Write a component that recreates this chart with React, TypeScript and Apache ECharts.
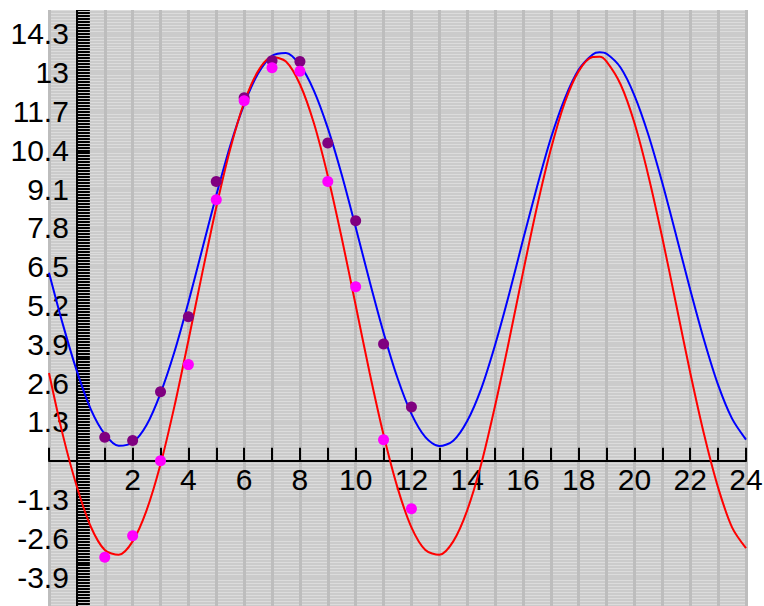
import React, { useEffect, useRef } from "react";
import * as echarts from "echarts";

// Curve samples at x = -1 .. 24 (every 0.5, plus the second crest)
const curveX = [
  -1, -0.5, 0, 0.5, 1, 1.5, 2, 2.5, 3, 3.5, 4, 4.5, 5, 5.5, 6, 6.5, 7, 7.5, 8, 8.5, 9, 9.5, 10, 10.5, 11, 11.5, 12,
  12.5, 13, 13.5, 14, 14.5, 15, 15.5, 16, 16.5, 17, 17.5, 18, 18.5, 18.75, 19, 19.5, 20, 20.5, 21, 21.5, 22, 22.5, 23,
  23.5, 24,
];
const blueCurve = [
  6.3, 4.56, 3.0, 1.72, 0.89, 0.5, 0.61, 1.2, 2.26, 3.65, 5.31, 7.1, 8.89, 10.55, 11.94, 12.97, 13.56, 13.66, 13.26,
  12.4, 11.14, 9.58, 7.82, 6.01, 4.29, 2.77, 1.57, 0.79, 0.49, 0.67, 1.33, 2.41, 3.88, 5.57, 7.39, 9.16, 10.8, 12.13,
  13.1, 13.61, 13.68, 13.63, 13.17, 12.23, 10.91, 9.3, 7.53, 5.73, 4.03, 2.54, 1.41, 0.71,
];
const redCurve = [
  2.94, 0.85, -0.87, -2.21, -2.99, -3.15, -2.7, -1.66, -0.12, 1.83, 4.03, 6.3, 8.49, 10.44, 12.0, 13.05, 13.52, 13.37,
  12.61, 11.31, 9.54, 7.46, 5.21, 2.95, 0.87, -0.9, -2.23, -2.99, -3.15, -2.7, -1.66, -0.12, 1.84, 4.02, 6.3, 8.49,
  10.43, 12.0, 13.05, 13.52, 13.53, 13.37, 12.61, 11.31, 9.54, 7.46, 5.21, 2.95, 0.87, -0.9, -2.23, -2.93,
];

// Observed points, x = 1 .. 12
const dotX = [1, 2, 3, 4, 5, 6, 7, 8, 9, 10, 11, 12];
const purpleDots = [0.79, 0.68, 2.31, 4.82, 9.35, 12.16, 13.4, 13.37, 10.64, 8.04, 3.91, 1.8];
const magentaDots = [-3.23, -2.51, 0.0, 3.22, 8.74, 12.06, 13.16, 13.05, 9.35, 5.83, 0.7, -1.61];

const xTickLabels = [2, 4, 6, 8, 10, 12, 14, 16, 18, 20, 22, 24];
const yTickLabels = [-3.9, -2.6, -1.3, 1.3, 2.6, 3.9, 5.2, 6.5, 7.8, 9.1, 10.4, 11.7, 13, 14.3];

const FONT = "'Liberation Sans', Arial, sans-serif";

const W = 764;
const H = 606;
const GRID_LEFT = 49;
const GRID_RIGHT = 18;
const GRID_TOP = -5;
const GRID_BOTTOM = -10;
const X_MIN = -1;
const X_MAX = 24;
const Y_MIN = -5.2;
const Y_MAX = 15.6;

export default function App() {
  const ref = useRef<HTMLDivElement>(null);
  useEffect(() => {
    document.body.style.margin = "0";
    const chart = echarts.init(ref.current!, null, { renderer: "svg" });
    const plotW = W - GRID_LEFT - GRID_RIGHT;
    const plotH = H - GRID_TOP - GRID_BOTTOM;
    // place axes on the zero lines
    const yAxisOffset = -((0 - X_MIN) / (X_MAX - X_MIN)) * plotW;
    const xAxisOffset = -((0 - Y_MIN) / (Y_MAX - Y_MIN)) * plotH;
    chart.setOption({
      animation: false,
      grid: {
        left: GRID_LEFT,
        right: GRID_RIGHT,
        top: GRID_TOP,
        bottom: GRID_BOTTOM,
        show: true,
        backgroundColor: "#cbcbcb",
        borderWidth: 0,
        containLabel: false,
        outerBoundsMode: "none",
      },
      xAxis: {
        type: "value",
        min: X_MIN,
        max: X_MAX,
        interval: 1,
        position: "bottom",
        offset: xAxisOffset,
        axisLine: { onZero: false, lineStyle: { color: "#000", width: 2 } },
        axisTick: { inside: true, length: 13, lineStyle: { color: "#000", width: 2 } },
        axisLabel: {
          customValues: xTickLabels,
          fontSize: 30,
          color: "#000",
          fontFamily: FONT,
          margin: 4,
        },
        splitLine: { show: true, lineStyle: { color: "#bdbdbd", width: 3 } },
      },
      yAxis: {
        type: "value",
        min: Y_MIN,
        max: Y_MAX,
        interval: 1.3,
        position: "left",
        offset: yAxisOffset,
        axisLine: { onZero: false, lineStyle: { color: "#000", width: 2 } },
        axisTick: { inside: true, length: 13, lineStyle: { color: "#000", width: 2 } },
        minorTick: { show: true, splitNumber: 13, length: 13, lineStyle: { color: "#000", width: 2 } },
        axisLabel: {
          customValues: yTickLabels,
          fontSize: 30,
          color: "#000",
          fontFamily: FONT,
          margin: 8,
        },
        splitLine: { show: false },
        minorSplitLine: { show: true, lineStyle: { color: "#dcdcdc", width: 1 } },
      },
      graphic: [
        {
          type: "rect",
          z: 100,
          shape: { x: 0, y: 0, width: W, height: 10 },
          style: { fill: "#ffffff" },
        },
      ],
      series: [
        {
          type: "line",
          data: curveX.map((x, i) => [x, blueCurve[i]]),
          smooth: 0.3,
          showSymbol: false,
          lineStyle: { color: "#0000ff", width: 2 },
          z: 3,
        },
        {
          type: "line",
          data: curveX.map((x, i) => [x, redCurve[i]]),
          smooth: 0.3,
          showSymbol: false,
          lineStyle: { color: "#ff0000", width: 2 },
          z: 3,
        },
        {
          type: "scatter",
          data: dotX.map((x, i) => [x, purpleDots[i]]),
          symbolSize: 11,
          itemStyle: { color: "#800080", opacity: 1 },
          z: 4,
        },
        {
          type: "scatter",
          data: dotX.map((x, i) => [x, magentaDots[i]]),
          symbolSize: 11,
          itemStyle: { color: "#ff00ff", opacity: 1 },
          z: 5,
        },
      ],
    });
    return () => chart.dispose();
  }, []);
  return <div ref={ref} style={{ width: W, height: H }} />;
}
